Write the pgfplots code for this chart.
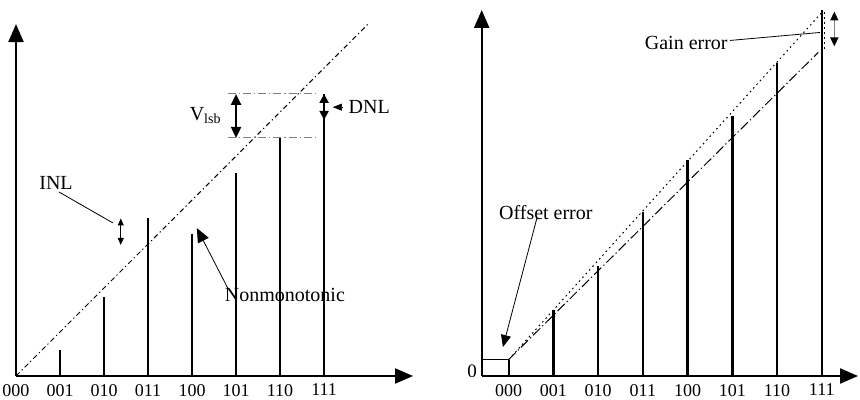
\documentclass[border=0pt]{standalone}
\usepackage{fontspec}
\setmainfont{Liberation Serif}
\usepackage{pgfplots}
\pgfplotsset{compat=1.18}
\usetikzlibrary{arrows.meta}

\pgfplotsset{
  schem/.style={
    scale only axis, axis lines=left, clip=false,
    axis line style={line width=1.1pt, -{Triangle[length=9pt,width=7.5pt]}},
    xtick={0,...,7}, xticklabels={000,001,010,011,100,101,110,111},
    ytick=\empty, major tick length=0pt,
    tick label style={font=\fontsize{9}{10}\selectfont},
    xticklabel style={yshift=-0.5pt},
    anchor=south west,
  },
  bars/.style={ycomb, line width=1.2pt, mark=none, black},
}
\tikzset{
  ann/.style={font=\fontsize{10}{11}\selectfont, inner sep=0pt},
  dd/.style={line width=0.5pt, dash pattern=on 2.5pt off 1.5pt on 0.6pt off 1.5pt},
  ddlong/.style={line width=0.5pt, dash pattern=on 5pt off 1.5pt on 0.6pt off 1.5pt},
  dot/.style={line width=0.5pt, dash pattern=on 0.8pt off 1.7pt},
}

\begin{document}
\begin{tikzpicture}
\useasboundingbox (0,0) rectangle (430pt,200pt);

% ---------------- left panel ----------------
\begin{axis}[schem, at={(8pt,12pt)}, width=198.5pt, height=176pt,
  xmin=0, xmax=9.02, ymin=0, ymax=8]
\addplot[bars] coordinates {(1,0.59) (2,1.8) (3,3.59) (4,3.23) (5,4.61) (6,5.41) (7,6.41)};
\addplot[dd] coordinates {(0,0) (8,8)};
\addplot[gray, line width=0.5pt, dash pattern=on 4pt off 1.5pt on 0.6pt off 1.5pt] coordinates {(4.81,6.41) (6.82,6.41)};
\addplot[gray, line width=0.5pt, dash pattern=on 4pt off 1.5pt on 0.6pt off 1.5pt] coordinates {(4.81,5.41) (6.82,5.41)};
% Vlsb arrow
\draw[line width=1pt, {Triangle[length=5.5pt,width=5pt]}-{Triangle[length=5.5pt,width=5pt]}] (axis cs:5,6.41) -- (axis cs:5,5.41);
\node[ann, anchor=east] at (axis cs:4.68,5.93) {V\textsubscript{lsb}};
% DNL arrow
\draw[line width=1pt, {Triangle[length=4.5pt,width=4.5pt]}-{Triangle[length=4.5pt,width=4.5pt]}] (axis cs:7,6.41) -- (axis cs:7,5.82);
\draw[line width=0.3pt, -{Triangle[length=4.5pt,width=3.5pt]}] (axis cs:7.4,6.11) -- (axis cs:7.2,6.11);
\node[ann, anchor=west] at (axis cs:7.55,6.11) {DNL};
% INL
\node[ann] at (axis cs:0.91,4.39) {INL};
\draw[line width=0.4pt] (axis cs:0.98,4.18) -- (axis cs:2.2,3.48);
\draw[line width=0.5pt, {Triangle[length=3.5pt,width=3pt]}-{Triangle[length=3.5pt,width=3pt]}] (axis cs:2.38,3.58) -- (axis cs:2.38,2.98);
% Nonmonotonic
\draw[line width=0.4pt, -{Triangle[length=7pt,width=6pt]}] (axis cs:4.81,2.0) -- (axis cs:4.11,3.36);
\node[ann] at (axis cs:6.11,1.84) {Nonmonotonic};
\end{axis}

% ---------------- right panel ----------------
\begin{axis}[schem, at={(240.85pt,12pt)}, width=188.15pt, height=183pt,
  xmin=-0.604, xmax=7.81, ymin=0, ymax=7.33]
\addplot[bars] coordinates {(0,0.33) (1,1.33) (2,2.2) (3,3.29) (4,4.32) (5,5.2) (6,6.27) (7,7.32)};
\addplot[dot] coordinates {(0,0.33) (7,7.28)};
\addplot[dot] coordinates {(7.05,7.29) (7.05,6.52)};
\addplot[ddlong] coordinates {(0,0.33) (6.92,6.48)};
\addplot[line width=0.5pt] coordinates {(-0.604,0.33) (0,0.33)};
\node[ann, font=\fontsize{9.5}{10}\selectfont] at (axis cs:-0.82,0.1) {0};
% Gain error
\draw[line width=0.8pt, gray, {Triangle[length=4.5pt,width=4pt,black]}-{Triangle[length=4.5pt,width=4pt,black]}] (axis cs:7.28,7.3) -- (axis cs:7.28,6.6);
\node[ann] at (axis cs:3.97,6.67) {Gain error};
\draw[line width=0.4pt] (axis cs:4.95,6.72) -- (axis cs:6.96,6.88);
% Offset error
\node[ann] at (axis cs:0.83,3.28) {Offset error};
\draw[line width=0.4pt, -{Triangle[length=6pt,width=5pt]}] (axis cs:0.63,3.16) -- (axis cs:-0.13,0.58);
\end{axis}
\end{tikzpicture}
\end{document}
